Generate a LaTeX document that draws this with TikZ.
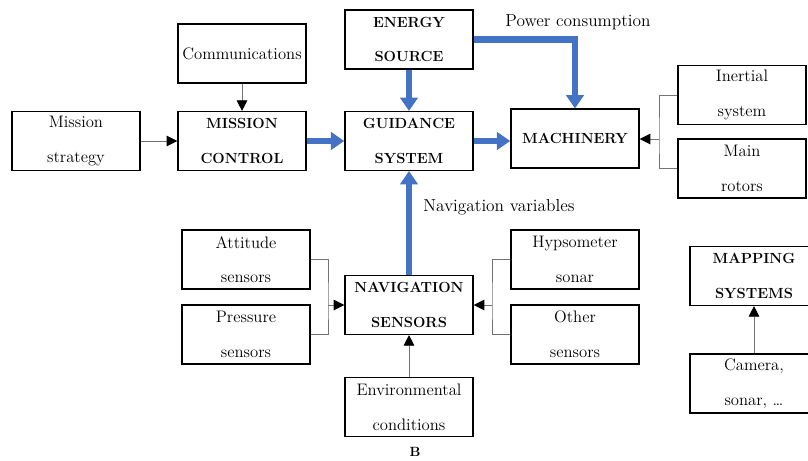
\documentclass[tikz,border=0pt]{standalone}
\usetikzlibrary{arrows.meta,positioning}
\definecolor{navblue}{RGB}{68,114,196}
\tikzset{
  box/.style={draw, line width=1.1pt, minimum width=96pt, minimum height=44pt,
    inner sep=2pt, align=center, font=\fontsize{12.5}{26}\selectfont},
  mainbox/.style={box, font=\fontsize{11}{26}\selectfont\bfseries},
  link/.style={draw=black!55, line width=0.7pt},
  feed/.style={link, -{Triangle[width=8pt,length=8pt,black]}},
  flow/.style={draw=navblue, line width=5pt, -{Triangle[width=13pt,length=10pt,navblue]}},
  tag/.style={font=\fontsize{13}{15}\selectfont}
}
\begin{document}
\begin{tikzpicture}[x=0.75pt,y=-0.75pt]
	\useasboundingbox (0,0) rectangle (808,461);
	% top row
	\node[box] (strat) at (76,141) {Mission\\strategy};
	\node[box] (comm) at (242,53.5) {Communications};
	\node[mainbox] (mctrl) at (242,141) {MISSION\\CONTROL};
	\node[mainbox] (energy) at (409,39.5) {ENERGY\\SOURCE};
	\node[mainbox] (guid) at (409,141) {GUIDANCE\\SYSTEM};
	\node[mainbox] (mach) at (575,138.5) {MACHINERY};
	\node[box] (inert) at (742,95) {Inertial\\system};
	\node[box] (rotor) at (742,168.5) {Main\\rotors};
	% sensors
	\node[box] (att) at (246,259.5) {Attitude\\sensors};
	\node[box] (press) at (246,334.5) {Pressure\\sensors};
	\node[mainbox] (nav) at (409,305) {NAVIGATION\\SENSORS};
	\node[box] (hyp) at (575,259.5) {Hypsometer\\sonar};
	\node[box] (other) at (575,334.5) {Other\\sensors};
	\node[box] (env) at (409,407) {Environmental\\conditions};
	% mapping
	\node[mainbox] (mapsys) at (754,276) {MAPPING\\SYSTEMS};
	\node[box] (cam) at (754,383.5) {Camera,\\sonar, \dots};
	% labels
	\node[tag] (power) at (578,22) {Power consumption};
	\node[tag] (navvar) at (499,207) {Navigation variables};
	\node[font=\fontsize{10}{12}\selectfont\bfseries] (fig) at (415,452) {B};
	% join points
	\coordinate (mjoin) at (659,139);
	\coordinate (ljoin) at (328,305);
	\coordinate (rjoin) at (492,305);

	% blue flows
	\draw[flow] (mctrl.east) -- (guid.west);
	\draw[flow] (guid.east) -- (guid.east -| mach.west);
	\draw[flow] (energy.south) -- (guid.north);
	\draw[flow] (energy.east) -| (mach.north);
	\draw[flow] (nav.north) -- (guid.south);

	% thin links
	\draw[feed] (strat.east) -- (mctrl.west);
	\draw[feed] (comm.south) -- (mctrl.north);
	\draw[link] (inert.west) -| (mjoin) |- (rotor.west);
	\draw[feed] (mjoin) -- (mjoin -| mach.east);
	\draw[link] (att.east) -| (ljoin) |- (press.east);
	\draw[feed] (ljoin) -- (nav.west);
	\draw[link] (hyp.west) -| (rjoin) |- (other.west);
	\draw[feed] (rjoin) -- (nav.east);
	\draw[feed] (env.north) -- (nav.south);
	\draw[feed] (cam.north) -- (mapsys.south);
\end{tikzpicture}
\end{document}
